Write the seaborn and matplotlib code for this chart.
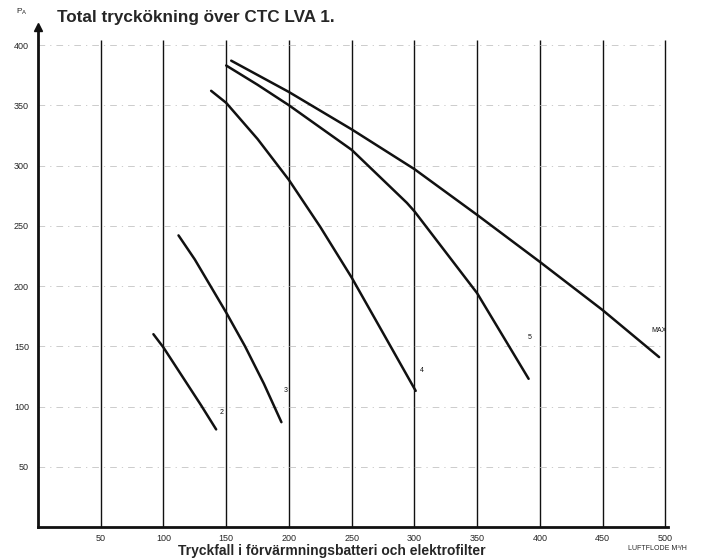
import numpy as np
import pandas as pd
import matplotlib
matplotlib.use("Agg")
import matplotlib.pyplot as plt
import seaborn as sns

# ---- data ----
curve_names = ["2", "3", "4", "5", "MAX"]
flow_2 = [92, 100, 115, 130, 142]
pa_2 = [160, 149, 125, 101, 81]
flow_3 = [112, 125, 137.5, 150, 165, 180, 194]
pa_3 = [242, 222, 200, 178, 150, 119, 87]
flow_4 = [138, 150, 175, 200, 225, 250, 275, 301]
pa_4 = [362, 352, 322, 288, 249, 207, 161, 113]
flow_5 = [150, 175, 200, 250, 294, 300, 350, 391]
pa_5 = [383, 367, 350, 313, 269, 262, 194, 123]
flow_max = [154, 200, 250, 300, 350, 400, 450, 495]
pa_max = [387, 361, 330, 297, 259, 220, 180, 141]

x_ticks = [50, 100, 150, 200, 250, 300, 350, 400, 450, 500]
y_ticks = [50, 100, 150, 200, 250, 300, 350, 400]
label_pos = {"2": (145, 95), "3": (196, 113), "4": (304, 130), "5": (390, 157), "MAX": (489, 163)}

title = "Total tryckökning över CTC LVA 1."
caption = "Tryckfall i förvärmningsbatteri och elektrofilter"
xlabel = "LUFTFLODE M³/H"

frames = []
for name, fx, fy in zip(curve_names,
                        [flow_2, flow_3, flow_4, flow_5, flow_max],
                        [pa_2, pa_3, pa_4, pa_5, pa_max]):
    frames.append(pd.DataFrame({"flow": fx, "pa": fy, "curve": name}))
df = pd.concat(frames, ignore_index=True)

sns.set_theme(style="white")
plt.rcParams["font.family"] = ["Liberation Sans", "DejaVu Sans"]

fig = plt.figure(figsize=(7.07, 5.6), dpi=100)
ax = fig.add_axes([0.0537, 0.0589, 0.891, 0.893])
ax.set_xlim(0, 502)
ax.set_ylim(0, 415)

# grid: vertical solid lines, horizontal faint dash-dot lines
ax.vlines(x_ticks, 0, 404, colors="#111111", linewidth=1.0, zorder=1)
ax.hlines(y_ticks, 0, 500, colors="#c4c4c4", linewidth=0.6,
          linestyles=[(0, (8, 6, 1.5, 6))], zorder=1)

sns.lineplot(data=df, x="flow", y="pa", hue="curve", units="curve",
             estimator=None, sort=False, legend=False,
             palette=["#111111"] * len(curve_names), linewidth=1.8, ax=ax, zorder=3)

for name, (lx, ly) in label_pos.items():
    ax.text(lx, ly, name, fontsize=5, ha="left", va="center", color="#111111")

for s in ["top", "right"]:
    ax.spines[s].set_visible(False)
ax.spines["left"].set_linewidth(2.0)
ax.spines["bottom"].set_linewidth(2.0)
ax.spines["left"].set_color("#111111")
ax.spines["bottom"].set_color("#111111")

# arrow at top of y axis
ax.plot([0], [415], marker="^", markersize=6, color="#111111", clip_on=False, zorder=5)

ax.set_xticks(x_ticks)
ax.set_xticklabels([str(v) for v in x_ticks], fontsize=6.5)
ax.set_yticks(y_ticks)
ax.set_yticklabels([str(v) for v in y_ticks], fontsize=6.5)
ax.tick_params(axis="x", length=0, pad=5)
ax.tick_params(axis="y", length=3, width=1.2, direction="inout", pad=5)
ax.set_xlabel("")
ax.set_ylabel("")

fig.text(0.031, 0.978, r"$\mathregular{P_A}$", fontsize=6, ha="center", va="center")
fig.text(0.081, 0.968, title, fontsize=12.3, fontweight="bold", ha="left", va="center")
fig.text(0.47, 0.016, caption, fontsize=10, fontweight="bold", ha="center", va="center")
fig.text(0.888, 0.021, xlabel, fontsize=5, ha="left", va="center")

fig.savefig("out.png", dpi=100)
